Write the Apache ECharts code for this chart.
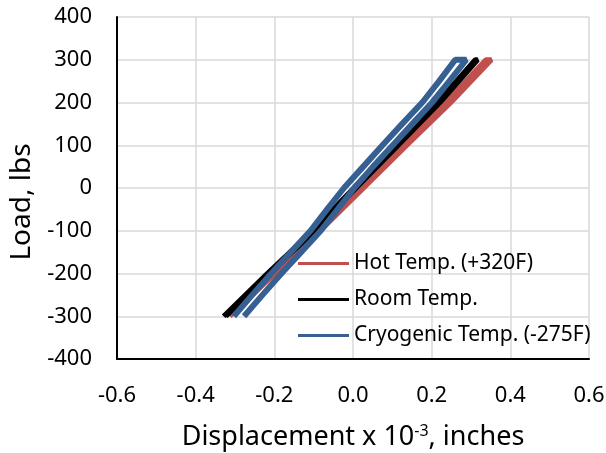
<!DOCTYPE html>
<html>
<head>
<meta charset="utf-8">
<script src="https://cdn.jsdelivr.net/npm/echarts@6/dist/echarts.min.js"></script>
<style>
	html, body { margin: 0; padding: 0; background: #fff; }
	#main { width: 606px; height: 453px; }
</style>
</head>
<body>
<div id="main"></div>
<script type="text/javascript">
	// displacement (x 10^-3 in) vs load (lbs): loading branch then unloading branch
	var hotX  = [-0.327, -0.212, -0.097, 0.013, 0.123, 0.235, 0.338,
	             0.352, 0.249, 0.137, 0.027, -0.083, -0.198, -0.313];
	var hotY  = [-300, -200, -100, 0, 100, 200, 300,
	             300, 200, 100, 0, -100, -200, -300];
	var roomX = [-0.329, -0.218, -0.103, 0.002, 0.109, 0.215, 0.311,
	             0.317, 0.221, 0.115, 0.008, -0.097, -0.212, -0.323];
	var roomY = [-300, -200, -100, 0, 100, 200, 300,
	             300, 200, 100, 0, -100, -200, -300];
	var cryoX = [-0.303, -0.256, -0.208, -0.158, -0.108, -0.066, -0.023, 0.026, 0.075, 0.125, 0.176, 0.219, 0.26,
	             0.288, 0.245, 0.201, 0.151, 0.101, 0.051, 0.003, -0.039, -0.082, -0.132, -0.182, -0.23, -0.277];
	var cryoY = [-300, -250, -200, -150, -100, -50, 0, 50, 100, 150, 200, 250, 300,
	             300, 250, 200, 150, 100, 50, 0, -50, -100, -150, -200, -250, -300];
	var names = ['Hot Temp. (+320F)', 'Room Temp.', 'Cryogenic Temp. (-275F)'];
	var colors = ['#c0504d', '#000000', '#376092'];
	var widths = [5, 5, 6];

	function pairs(xs, ys) {
		var out = [];
		for (var i = 0; i < xs.length; i++) out.push([xs[i], ys[i]]);
		return out;
	}
	var seriesData = [pairs(hotX, hotY), pairs(roomX, roomY), pairs(cryoX, cryoY)];

	var font = 'Noto Sans';
	var option = {
		animation: false,
		grid: { left: 117, right: 17, top: 17, bottom: 94, outerBoundsMode: 'none' },
		legend: {
			orient: 'vertical',
			left: 293,
			top: 248,
			itemWidth: 51,
			itemHeight: 3,
			itemGap: 15,
			icon: 'rect',
			textStyle: { fontFamily: font, fontSize: 21, color: '#000' },
			data: names
		},
		xAxis: {
			type: 'value',
			min: -0.6, max: 0.6, interval: 0.2,
			name: '{a|Displacement x 10}{s|-3}{a|, inches}',
			nameLocation: 'middle',
			nameGap: 64,
			nameTextStyle: {
				rich: {
					a: { fontFamily: font, fontSize: 27, color: '#000' },
					s: { fontFamily: font, fontSize: 16, color: '#000', verticalAlign: 'top', padding: [0, 0, 12, 0] }
				}
			},
			axisLine: { onZero: false, lineStyle: { color: '#000', width: 2 } },
			axisTick: { show: false },
			axisLabel: { fontFamily: font, fontSize: 22, color: '#000', margin: 26,
				formatter: function (v) { return v.toFixed(1); } },
			splitLine: { lineStyle: { color: '#d9d9d9', width: 1.5 } }
		},
		yAxis: {
			type: 'value',
			min: -400, max: 400, interval: 100,
			name: 'Load, lbs',
			nameLocation: 'middle',
			nameGap: 78,
			nameTextStyle: { fontFamily: font, fontSize: 28, color: '#000', padding: [0, 28, 0, 0] },
			axisLine: { show: true, onZero: false, lineStyle: { color: '#000', width: 2 } },
			axisTick: { show: false },
			axisLabel: { fontFamily: font, fontSize: 22, color: '#000', margin: 25 },
			splitLine: { lineStyle: { color: '#d9d9d9', width: 1.5 } }
		},
		series: names.map(function (n, i) {
			return {
				name: n,
				type: 'line',
				data: seriesData[i],
				showSymbol: false,
				color: colors[i],
				lineStyle: { width: widths[i], color: colors[i] }
			};
		})
	};

	var myChart = echarts.init(document.getElementById('main'));
	myChart.setOption(option);
</script>
</body>
</html>
